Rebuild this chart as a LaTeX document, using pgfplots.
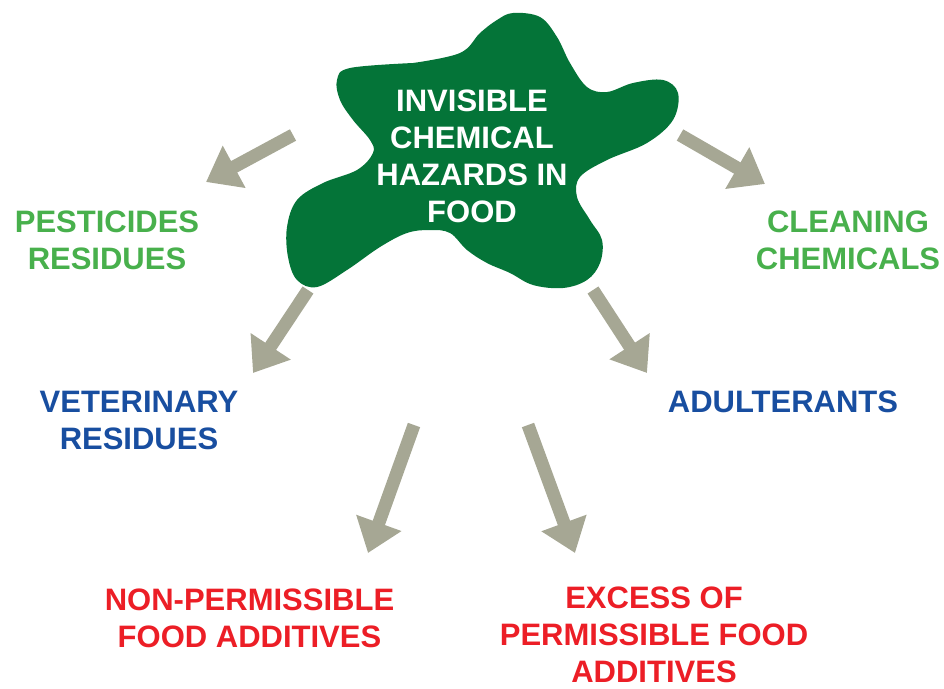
\documentclass[border=0pt]{standalone}
\usepackage{fontspec}
\setmainfont{Liberation Sans}
\usepackage{pgfplots}
\pgfplotsset{compat=1.18}
\usetikzlibrary{arrows.meta}
\definecolor{blobgreen}{RGB}{4,116,56}
\definecolor{txtgreen}{RGB}{72,176,76}
\definecolor{txtblue}{RGB}{24,78,160}
\definecolor{txtred}{RGB}{236,30,38}
\definecolor{arrowgray}{RGB}{166,167,148}
\begin{document}
\begin{tikzpicture}[
  lbl/.style={font=\fontsize{31}{37}\selectfont\bfseries, align=center, inner sep=0pt},
]
\begin{axis}[
  width=944pt, height=688pt, scale only axis,
  xmin=0, xmax=944, ymin=0, ymax=688, y dir=reverse,
  hide axis, clip=false,
  arr/.style={draw=arrowgray, line width=13pt, -{Triangle[width=46pt,length=32pt]}, arrowgray, forget plot},
]
\addplot[draw=none, forget plot] coordinates {(0,0) (944,688)};
% blob
\addplot[fill=blobgreen, draw=none, smooth, tension=0.6, forget plot] coordinates {
(413,63) (460,53) (480,33) (497,20) (513,13) (540,17) (557,37) (570,63) (587,87) (607,92)
(633,83) (663,80) (678,93) (673,120) (647,143) (607,160) (580,177) (577,197) (590,220)
(602,240) (600,263) (587,280) (563,288) (533,285) (510,273) (487,263) (467,250) (450,233)
(430,230) (407,233) (380,247) (347,270) (317,287) (297,280) (288,257) (287,227) (297,200)
(323,183) (357,170) (373,153) (370,140) (353,120) (340,100) (337,80) (350,68) (413,63)};
% arrows
\addplot[arr] coordinates {(293,135) (206,182)};
\addplot[arr] coordinates {(680,135) (765,184)};
\addplot[arr] coordinates {(308,290) (253,373)};
\addplot[arr] coordinates {(593,290) (647,373)};
\addplot[arr] coordinates {(414,425) (368,553)};
\addplot[arr] coordinates {(528,425) (575,553)};
% texts
\node[lbl, text=white] at (axis cs:472,156.5) {INVISIBLE\\CHEMICAL\\HAZARDS IN\\FOOD};
\node[lbl, text=txtgreen] at (axis cs:107,240) {PESTICIDES\\RESIDUES};
\node[lbl, text=txtgreen] at (axis cs:848,240) {CLEANING\\CHEMICALS};
\node[lbl, text=txtblue] at (axis cs:139,420) {VETERINARY\\RESIDUES};
\node[lbl, text=txtblue] at (axis cs:783,401.5) {ADULTERANTS};
\node[lbl, text=txtred] at (axis cs:249.5,618) {NON-PERMISSIBLE\\FOOD ADDITIVES};
\node[lbl, text=txtred] at (axis cs:654,635) {EXCESS OF\\PERMISSIBLE FOOD\\ADDITIVES};
\end{axis}
\end{tikzpicture}
\end{document}
